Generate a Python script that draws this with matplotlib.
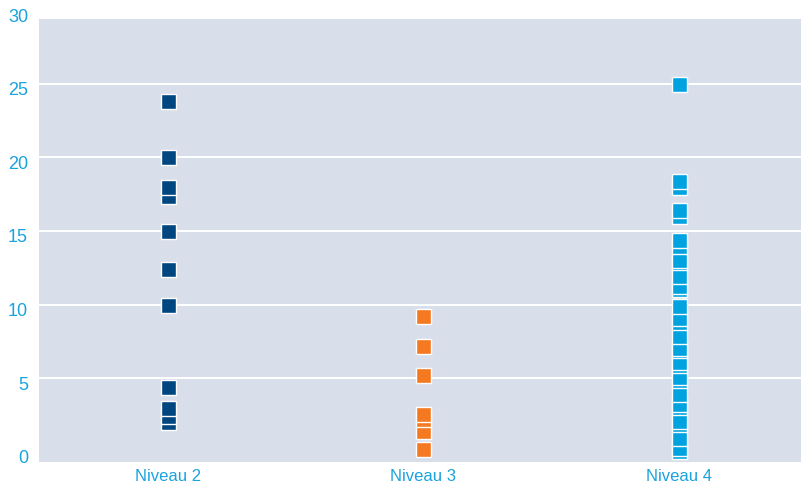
import numpy as np
import matplotlib
matplotlib.use("Agg")
import matplotlib.pyplot as plt
import matplotlib.transforms as mtransforms

plt.rcParams['font.family'] = ['Liberation Sans', 'DejaVu Sans']

categories = ['Niveau 2', 'Niveau 3', 'Niveau 4']
niveau2 = [2.0, 2.4, 3.0, 4.4, 10.0, 12.4, 15.0, 17.4, 18.0, 20.0, 23.8]
niveau3 = [0.2, 1.4, 2.25, 2.55, 5.2, 7.2, 9.2]
niveau4 = [0.04, 0.27, 0.9, 1.9, 2.08, 3.03, 3.26, 3.9, 4.89, 5.07, 5.89, 6.07,
           6.89, 7.03, 7.88, 8.84, 9.1, 9.88, 11.06, 11.24, 11.93, 12.88, 13.05,
           14.0, 14.37, 16.0, 16.4, 18.0, 18.4, 25.0]
colors = ['#00467f', '#f47920', '#00a3e0']
yticks = [0, 5, 10, 15, 20, 25, 30]

fig = plt.figure(figsize=(8.01, 4.87), dpi=100)
ax = fig.add_axes([39/801, 25/487, 762/801, 443/487])
ax.set_facecolor('#d9deeb')
for s in ax.spines.values():
    s.set_visible(False)

for i, (vals, c) in enumerate(zip([niveau2, niveau3, niveau4], colors)):
    v = np.sort(vals)
    ax.plot(np.full(len(v), i), v, linestyle='none', marker='s', ms=10.8,
            mfc=c, mec='white', mew=1.0, zorder=3)

for y in yticks[1:-1]:
    ax.axhline(y, color='white', lw=1.4, zorder=1)

ax.set_xlim(-0.506, 2.48)
ax.set_ylim(-0.7, 29.4)
ax.set_yticks([])
ax.set_xticks(range(len(categories)))
ax.set_xticklabels(categories, fontsize=12, color='#1aa3dd')
ax.tick_params(axis='x', length=0, pad=5)

# y labels sit a bit below their grid lines
trans = mtransforms.blended_transform_factory(ax.transAxes, ax.transData) + \
    mtransforms.ScaledTranslation(0, -7/100, fig.dpi_scale_trans)
for y in yticks:
    ax.text(-11/762, y, str(y), transform=trans, ha='right', va='center',
            fontsize=13, color='#1aa3dd', clip_on=False)

fig.savefig('out.png', dpi=100)
